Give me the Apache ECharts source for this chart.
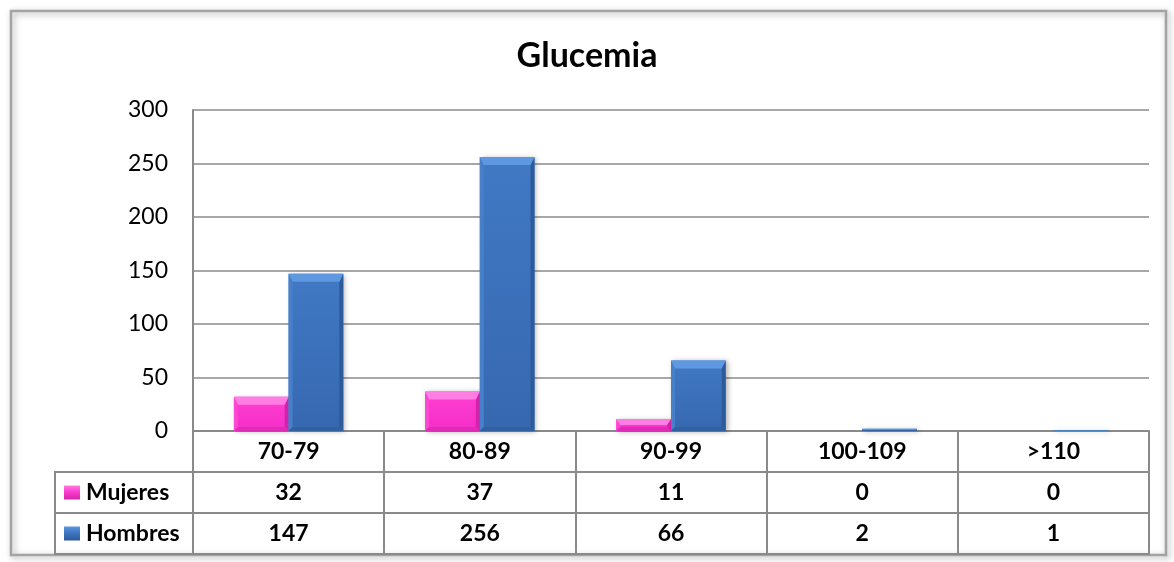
<!DOCTYPE html>
<html>
<head>
<meta charset="utf-8">
<script src="https://cdn.jsdelivr.net/npm/echarts@6/dist/echarts.min.js"></script>
<style>
  html, body { margin: 0; padding: 0; background: #ffffff; }
  #chart { width: 1174px; height: 562px; }
</style>
</head>
<body>
<div id="chart"></div>
<script>
// Glucemia: counts per glucose range, women vs men
const categories = ['70-79', '80-89', '90-99', '100-109', '>110'];
const mujeres = [32, 37, 11, 0, 0];
const hombres = [147, 256, 66, 2, 1];
const seriesNames = ['Mujeres', 'Hombres'];
const yMax = 300;
const yStep = 50;

const FONT = 'Lato, "Liberation Sans", sans-serif';
const LINE = '#8a8a8a';

// Layout of the plot and the data table beneath it
const GRID = { left: 193, right: 25, top: 110, bottom: 131 };
const ROW_H = 41;
const TABLE_LEFT = 55;

const palettes = {
  pink: { face: ['#ff3fd2', '#f42ec8'], top: '#ff7ee4', left: '#ff46d4', right: '#d423ab', bottom: '#e02ab8' },
  blue: { face: ['#4179c4', '#3668b0'], top: '#5e98e0', left: '#4780ca', right: '#2d5a9b', bottom: '#30609f' }
};

// Bevelled column drawn from the category/value scales
function bevelBar(side, pal) {
  return function (params, api) {
    const idx = api.value(0);
    const v = api.value(1);
    const base = api.coord([idx, 0]);
    const tip = api.coord([idx, v]);
    const band = api.size([1, 0])[0];
    const w = band * 0.286;
    const x = side < 0 ? base[0] - w : base[0];
    const y = tip[1];
    const h = base[1] - tip[1];
    if (h <= 0.01) return null;
    const b = Math.min(8, h / 2, w / 4);
    const bs = Math.min(4, h / 2);
    const grad = new echarts.graphic.LinearGradient(0, 0, 0, 1, [
      { offset: 0, color: pal.face[0] }, { offset: 1, color: pal.face[1] }
    ]);
    return {
      type: 'group',
      children: [
        { type: 'rect', shape: { x: x, y: y, width: w, height: h },
          style: { fill: grad, shadowBlur: 5, shadowOffsetX: 2, shadowOffsetY: 1, shadowColor: 'rgba(0,0,0,0.3)' } },
        { type: 'polygon', shape: { points: [[x, y], [x + bs, y + b], [x + bs, y + h - bs], [x, y + h]] },
          style: { fill: pal.left } },
        { type: 'polygon', shape: { points: [[x + w, y], [x + w, y + h], [x + w - bs, y + h - bs], [x + w - bs, y + b]] },
          style: { fill: pal.right } },
        { type: 'polygon', shape: { points: [[x, y + h], [x + bs, y + h - bs], [x + w - bs, y + h - bs], [x + w, y + h]] },
          style: { fill: pal.bottom } },
        { type: 'polygon', shape: { points: [[x, y], [x + w, y], [x + w - bs, y + b], [x + bs, y + b]] },
          style: { fill: pal.top } }
      ]
    };
  };
}

function rowAxis(values, offset, showLabels) {
  return {
    type: 'category',
    position: 'bottom',
    offset: offset,
    data: values.map(String),
    axisLine: { show: true, lineStyle: { color: LINE, width: 2 } },
    axisTick: { show: false },
    axisLabel: { show: showLabels, margin: 9, fontFamily: FONT, fontSize: 23, fontWeight: 'bold', color: '#000' },
    splitLine: { show: false }
  };
}

function legendKey(y, pal) {
  return {
    type: 'rect',
    shape: { x: 64, y: y - 7, width: 16, height: 14 },
    style: {
      fill: new echarts.graphic.LinearGradient(0, 0, 0, 1, [
        { offset: 0, color: pal.top }, { offset: 0.4, color: pal.face[0] }, { offset: 1, color: pal.right }
      ])
    }
  };
}

function legendText(y, text) {
  return {
    type: 'text',
    x: 86, y: y,
    style: { text: text, fontFamily: FONT, fontSize: 23, fontWeight: 'bold', fill: '#000', verticalAlign: 'middle', align: 'left' }
  };
}

const axisY = 562 - GRID.bottom;
const row1 = axisY + ROW_H, row2 = axisY + 2 * ROW_H, row3 = axisY + 3 * ROW_H;

const chart = echarts.init(document.getElementById('chart'), null, { renderer: 'canvas' });
chart.setOption({
  backgroundColor: '#ffffff',
  animation: false,
  title: {
    text: 'Glucemia',
    left: 'center',
    top: 34,
    textStyle: { fontFamily: FONT, fontSize: 34, fontWeight: 'bold', color: '#000' }
  },
  grid: GRID,
  xAxis: [
    {
      type: 'category',
      data: categories,
      boundaryGap: true,
      axisLine: { show: true, lineStyle: { color: LINE, width: 2 } },
      axisTick: { show: true, alignWithLabel: false, length: 3 * ROW_H, lineStyle: { color: LINE, width: 2 } },
      axisLabel: { margin: 9, fontFamily: FONT, fontSize: 23, fontWeight: 'bold', color: '#000' },
      splitLine: { show: false }
    },
    rowAxis(mujeres, ROW_H, true),
    rowAxis(hombres, 2 * ROW_H, true),
    rowAxis(hombres, 3 * ROW_H, false)
  ],
  yAxis: {
    type: 'value',
    min: 0,
    max: yMax,
    interval: yStep,
    axisLine: { show: true, lineStyle: { color: LINE, width: 2 } },
    axisTick: { show: false },
    axisLabel: { margin: 25, fontFamily: FONT, fontSize: 23, color: '#000' },
    splitLine: { show: true, lineStyle: { color: LINE, width: 1.6 } }
  },
  series: [
    {
      name: seriesNames[0],
      type: 'custom',
      xAxisIndex: 0,
      renderItem: bevelBar(-1, palettes.pink),
      encode: { x: 0, y: 1 },
      data: mujeres.map((v, i) => [i, v]),
      z: 3
    },
    {
      name: seriesNames[1],
      type: 'custom',
      xAxisIndex: 0,
      renderItem: bevelBar(1, palettes.blue),
      encode: { x: 0, y: 1 },
      data: hombres.map((v, i) => [i, v]),
      z: 3
    }
  ],
  graphic: [
    // chart frame
    { type: 'rect', shape: { x: 11, y: 11, width: 1155, height: 544 },
      style: { fill: 'none', stroke: '#a3a3a3', lineWidth: 2.5, shadowBlur: 6, shadowOffsetX: 2, shadowOffsetY: 2, shadowColor: 'rgba(0,0,0,0.35)' }, z: 0 },
    // legend column of the data table
    { type: 'polyline', shape: { points: [[GRID.left, row1], [TABLE_LEFT, row1], [TABLE_LEFT, row3], [GRID.left, row3]] },
      style: { fill: 'none', stroke: LINE, lineWidth: 2 } },
    { type: 'line', shape: { x1: TABLE_LEFT, y1: row2, x2: GRID.left, y2: row2 },
      style: { stroke: LINE, lineWidth: 2 } },
    legendKey(row1 + ROW_H / 2, palettes.pink),
    legendText(row1 + ROW_H / 2, seriesNames[0]),
    legendKey(row2 + ROW_H / 2, palettes.blue),
    legendText(row2 + ROW_H / 2, seriesNames[1])
  ]
});
</script>
</body>
</html>
